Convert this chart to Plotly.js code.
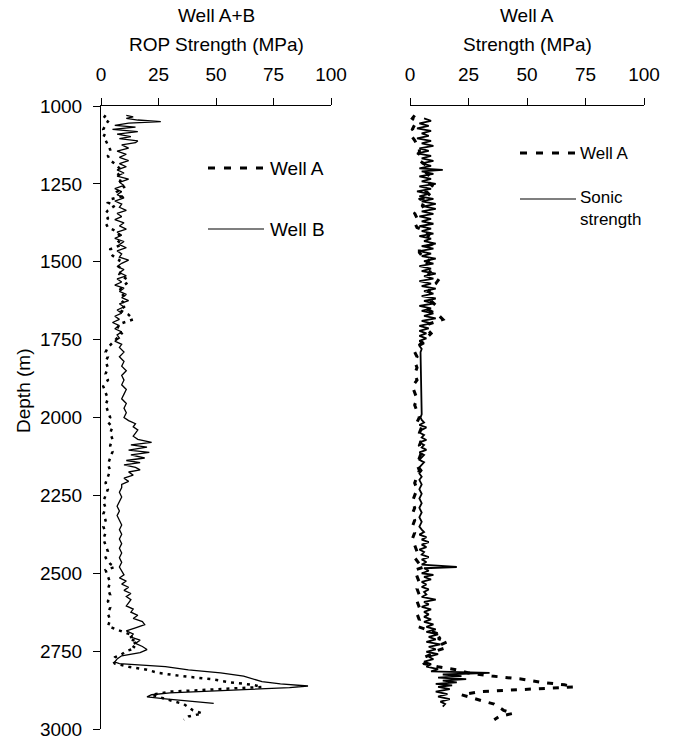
<!DOCTYPE html>
<html>
<head>
<meta charset="utf-8">
<script src="https://cdn.plot.ly/plotly-3.0.1.min.js"></script>
<style>html,body{margin:0;padding:0;background:#fff;}#chart{width:675px;height:740px;}</style>
</head>
<body>
<div id="chart"></div>
<script>
// ---- Data ----
var strengthTicks = [0, 25, 50, 75, 100];
var depthTicks = [1000, 1250, 1500, 1750, 2000, 2250, 2500, 2750, 3000];

// Well B ROP strength (left panel, solid)
var wellBDepth = [1030,1035,1040,1045,1050,1055,1062,1068,1075,1082,1090,1098,1105,1112,1118,1125,1135,1145,1155,1165,1175,1185,1195,1205,1215,1225,1235,1245,1255,1265,1275,1285,1295,1305,1315,1325,1335,1345,1355,1365,1375,1385,1395,1405,1415,1425,1435,1445,1455,1465,1475,1485,1495,1505,1515,1525,1535,1545,1555,1565,1575,1585,1595,1605,1615,1625,1635,1645,1655,1665,1675,1685,1695,1705,1715,1725,1735,1745,1755,1765,1775,1790,1805,1820,1835,1850,1865,1880,1895,1910,1925,1940,1955,1970,1985,2000,2010,2020,2030,2040,2050,2060,2070,2080,2088,2095,2105,2112,2120,2130,2138,2145,2152,2160,2168,2175,2185,2195,2205,2215,2225,2240,2255,2270,2285,2300,2315,2330,2345,2360,2375,2390,2405,2420,2435,2450,2465,2480,2495,2505,2515,2525,2535,2545,2555,2565,2575,2585,2595,2605,2615,2625,2635,2645,2655,2665,2675,2685,2695,2705,2715,2725,2735,2745,2755,2765,2775,2785,2790,2795,2800,2810,2820,2830,2840,2848,2855,2862,2867,2872,2878,2884,2890,2897,2903,2910,2918];
var wellBStrength = [11,14,11,16,26,12,6,15,5,16,7,13,8,16,15,9,12,7,11,8,12,8,11,7,10,7,12,8,10,6,9,7,10,6,9,8,11,7,9,6,10,8,11,7,9,6,10,8,11,7,9,8,12,9,7,10,8,11,7,9,6,10,8,11,9,12,8,10,7,9,6,8,5,8,6,9,7,8,6,9,8,10,8,10,9,11,9,10,9,11,10,9,11,10,11,10,12,15,14,16,15,14,16,22,13,20,12,21,13,19,11,17,10,15,17,12,14,10,12,9,9,8,9,8,7,8,7,8,9,8,9,8,9,8,9,8,9,8,9,10,8,11,9,12,10,13,11,13,12,11,14,13,16,14,18,19,15,11,14,13,17,15,18,20,17,9,7,6,8,18,28,38,52,62,66,70,78,90,82,66,45,30,22,20,28,38,49];

// Well A ROP strength (dotted in left panel, dashed in right panel)
var wellADepth = [1030,1040,1050,1060,1075,1085,1100,1110,1125,1140,1150,1160,1175,1185,1200,1215,1230,1245,1260,1275,1290,1300,1310,1320,1335,1345,1360,1375,1390,1400,1415,1430,1445,1460,1470,1480,1495,1510,1525,1540,1550,1560,1570,1580,1595,1610,1625,1640,1655,1670,1685,1700,1715,1730,1745,1760,1775,1790,1805,1820,1840,1860,1880,1900,1920,1940,1960,1980,2000,2015,2030,2050,2070,2090,2110,2130,2150,2170,2190,2210,2230,2250,2270,2290,2310,2330,2350,2370,2390,2410,2430,2450,2470,2480,2490,2510,2530,2550,2570,2590,2610,2630,2650,2670,2690,2700,2710,2720,2730,2740,2750,2760,2770,2780,2790,2800,2810,2820,2830,2840,2850,2858,2865,2870,2875,2880,2890,2900,2910,2920,2930,2940,2950,2960,2970];
var wellAStrength = [2,1,3,2,1,2,1,2,3,4,4,3,4,6,8,7,9,8,10,7,9,4,3,6,3,2,3,2,3,6,8,7,9,4,4,5,8,7,9,8,10,12,11,9,8,10,9,11,8,12,14,8,7,9,7,5,3,2,3,2,3,2,3,1,2,3,2,3,4,3,5,4,5,4,5,4,3,4,3,2,3,2,1,2,1,2,1,2,1,2,3,2,4,6,2,3,4,3,4,3,4,3,4,3,11,14,12,16,13,15,11,9,6,5,6,12,20,25,35,48,56,66,70,58,42,30,22,26,31,36,38,40,44,38,36];

// Sonic strength, Well A (right panel, solid)
var sonicDepth = [1040,1048,1056,1064,1072,1080,1088,1096,1104,1112,1120,1128,1136,1144,1152,1160,1168,1176,1184,1192,1200,1205,1210,1218,1226,1234,1242,1250,1258,1266,1274,1282,1290,1298,1306,1314,1322,1330,1338,1346,1354,1362,1370,1378,1386,1394,1402,1410,1418,1426,1434,1442,1450,1458,1466,1474,1482,1490,1498,1506,1514,1522,1530,1538,1546,1554,1562,1570,1578,1586,1594,1602,1610,1618,1626,1634,1642,1650,1658,1666,1674,1682,1690,1698,1706,1714,1722,1730,1738,1746,1754,1762,1770,1780,1790,1990,2000,2008,2016,2024,2032,2040,2048,2056,2064,2072,2080,2088,2096,2104,2112,2120,2128,2136,2144,2152,2160,2170,2180,2190,2200,2215,2230,2245,2260,2275,2290,2305,2320,2335,2350,2360,2368,2376,2384,2392,2400,2408,2416,2424,2432,2440,2448,2456,2464,2472,2480,2484,2492,2500,2505,2512,2520,2528,2536,2544,2552,2560,2568,2576,2585,2592,2600,2608,2616,2624,2632,2640,2648,2656,2664,2672,2680,2688,2696,2704,2712,2720,2728,2736,2744,2752,2760,2768,2776,2784,2792,2800,2808,2815,2820,2825,2830,2835,2840,2845,2850,2855,2860,2865,2872,2880,2888,2896,2904,2912,2920,2928];
var sonicStrength = [6,9,4,8,3,9,5,8,3,9,5,10,4,8,3,9,5,10,5,9,4,14,5,10,4,9,5,11,4,9,3,8,4,10,5,11,6,11,5,10,4,9,5,10,4,9,5,10,4,9,6,11,5,10,4,9,5,11,6,10,4,9,5,11,6,10,4,9,5,11,6,10,5,11,6,10,4,9,5,10,6,11,5,9,4,8,4,7,4,7,4,6,4,5,4.5,5,4.5,5,6,4,7,5,4,6,5,7,4,6,5,7,4,6,5,4,6,5,4,5,4,5,4,5,4,5,4,5,4,5,4,5,4,5,6,4,7,5,8,5,7,4,6,5,8,5,7,5,20,6,8,5,10,6,9,5,7,5,8,6,7,5,11,6,8,5,9,6,8,6,9,6,10,7,11,7,12,8,11,7,13,8,11,7,12,8,10,6,9,7,12,9,34,14,22,12,24,14,20,11,18,12,17,11,16,12,17,13,15,14];

// ---- Chart ----
var FONT = '"Liberation Sans", Arial, sans-serif';
var W = 675, H = 740, ML = 101, MR = 31, MT = 106, MB = 11;
var PW = W - ML - MR, PH = H - MT - MB;
function px2x(px) { return (px - ML) / PW; }
function py2y(py) { return (H - MB - py) / PH; }

var traces = [
  {x: wellAStrength, y: wellADepth, xaxis: 'x', yaxis: 'y', type: 'scatter', mode: 'lines',
   line: {color: '#000', width: 2.5, dash: '3px,5px'}, name: 'Well A'},
  {x: wellBStrength, y: wellBDepth, xaxis: 'x', yaxis: 'y', type: 'scatter', mode: 'lines',
   line: {color: '#000', width: 1.3}, name: 'Well B'},
  {x: wellAStrength, y: wellADepth, xaxis: 'x2', yaxis: 'y2', type: 'scatter', mode: 'lines',
   line: {color: '#000', width: 3, dash: '6px,8px'}, name: 'Well A'},
  {x: sonicStrength, y: sonicDepth, xaxis: 'x2', yaxis: 'y2', type: 'scatter', mode: 'lines',
   line: {color: '#000', width: 1.8}, name: 'Sonic strength'}
];

var xCommon = {
  range: [0, 100], side: 'top', showline: true, linecolor: '#000', linewidth: 1,
  ticks: 'outside', ticklen: 7, tickcolor: '#000', tickvals: strengthTicks, ticklabelstandoff: 9,
  tickfont: {family: FONT, size: 19, color: '#000'}, showgrid: false, zeroline: false, fixedrange: true
};

var layout = {
  width: W, height: H,
  margin: {l: ML, r: MR, t: MT, b: MB, pad: 0},
  paper_bgcolor: '#fff', plot_bgcolor: 'rgba(0,0,0,0)',
  showlegend: false,
  font: {family: FONT, size: 19, color: '#000'},
  xaxis: Object.assign({}, xCommon, {domain: [0, px2x(331)], anchor: 'y'}),
  xaxis2: Object.assign({}, xCommon, {domain: [px2x(410), 1], anchor: 'y2'}),
  yaxis: {
    range: [3000, 1000], domain: [0, 1], anchor: 'x', showline: true, linecolor: '#000', linewidth: 1,
    ticks: 'outside', ticklen: 7, tickcolor: '#000', tickvals: depthTicks, ticklabelstandoff: 7,
    tickfont: {family: FONT, size: 19, color: '#000'}, showgrid: false, zeroline: false
  },
  yaxis2: {
    range: [3000, 1000], domain: [0, 1], anchor: 'x2', showline: false, ticks: '',
    showticklabels: false, showgrid: false, zeroline: false
  },
  annotations: [
    {text: 'Well A+B', xref: 'paper', yref: 'paper', x: px2x(216), y: py2y(16), xanchor: 'center', yanchor: 'middle', showarrow: false, font: {size: 19}},
    {text: 'ROP Strength (MPa)', xref: 'paper', yref: 'paper', x: px2x(216), y: py2y(45), xanchor: 'center', yanchor: 'middle', showarrow: false, font: {size: 19}},
    {text: 'Well A', xref: 'paper', yref: 'paper', x: px2x(527), y: py2y(16), xanchor: 'center', yanchor: 'middle', showarrow: false, font: {size: 19}},
    {text: 'Strength (MPa)', xref: 'paper', yref: 'paper', x: px2x(527), y: py2y(45), xanchor: 'center', yanchor: 'middle', showarrow: false, font: {size: 19}},
    {text: 'Depth (m)', xref: 'paper', yref: 'paper', x: px2x(23), y: py2y(391), xanchor: 'center', yanchor: 'middle', textangle: -90, showarrow: false, font: {size: 19}},
    {text: 'Well A', xref: 'paper', yref: 'paper', x: px2x(268), y: py2y(168), xanchor: 'left', yanchor: 'middle', showarrow: false, font: {size: 19}},
    {text: 'Well B', xref: 'paper', yref: 'paper', x: px2x(268), y: py2y(229), xanchor: 'left', yanchor: 'middle', showarrow: false, font: {size: 19}},
    {text: 'Well A', xref: 'paper', yref: 'paper', x: px2x(578), y: py2y(153), xanchor: 'left', yanchor: 'middle', showarrow: false, font: {size: 17}},
    {text: 'Sonic<br>strength', xref: 'paper', yref: 'paper', x: px2x(578), y: py2y(208), xanchor: 'left', yanchor: 'middle', align: 'left', showarrow: false, font: {size: 17}}
  ],
  shapes: [
    {type: 'line', xref: 'paper', yref: 'paper', x0: px2x(208), x1: px2x(264), y0: py2y(168), y1: py2y(168), line: {color: '#000', width: 3, dash: '7px,9px'}},
    {type: 'line', xref: 'paper', yref: 'paper', x0: px2x(208), x1: px2x(264), y0: py2y(229), y1: py2y(229), line: {color: '#000', width: 1.2}},
    {type: 'line', xref: 'paper', yref: 'paper', x0: px2x(520), x1: px2x(576), y0: py2y(153), y1: py2y(153), line: {color: '#000', width: 3, dash: '7px,9px'}},
    {type: 'line', xref: 'paper', yref: 'paper', x0: px2x(520), x1: px2x(576), y0: py2y(199), y1: py2y(199), line: {color: '#000', width: 1.2}}
  ]
};

Plotly.newPlot('chart', traces, layout, {staticPlot: true, displayModeBar: false});
</script>
</body>
</html>
